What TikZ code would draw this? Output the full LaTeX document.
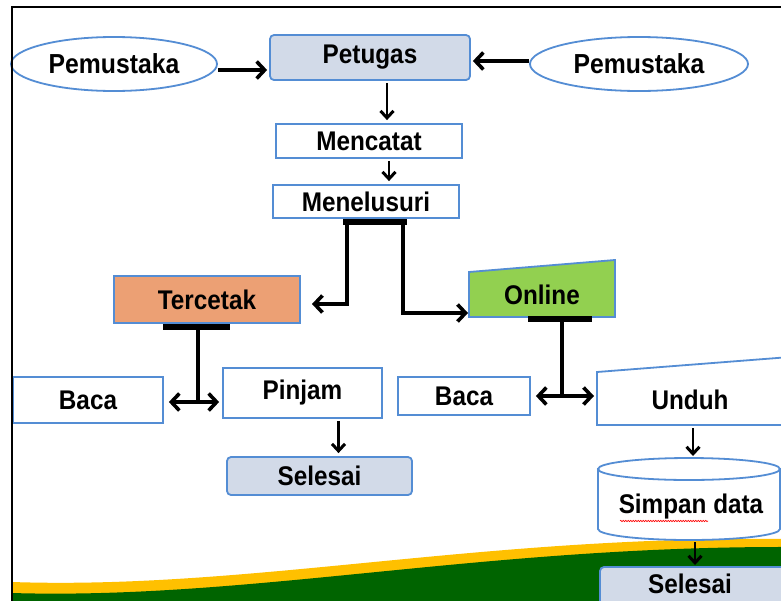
\documentclass[tikz,border=0pt]{standalone}
\usepackage{fontspec}
\setmainfont{Liberation Sans}[FakeStretch=0.9]
\usetikzlibrary{arrows.meta,shapes.geometric,decorations.pathmorphing}
\definecolor{bord}{RGB}{84,141,212}
\definecolor{grayfill}{RGB}{210,218,232}
\definecolor{tercfill}{RGB}{236,160,116}
\definecolor{onlfill}{RGB}{146,208,80}
\definecolor{wyellow}{RGB}{255,192,0}
\definecolor{wgreen}{RGB}{0,100,0}
\begin{document}
\begin{tikzpicture}[x=1pt,y=-1pt,
  txt/.style={font=\fontsize{27}{30}\selectfont\bfseries, text=black, inner sep=0pt},
  bx/.style={txt, draw=bord, line width=1.8pt, fill=white},
  ell/.style={txt, ellipse, draw=bord, line width=1.8pt, fill=white},
  arr/.style={line width=3.6pt, -{Straight Barb[length=8pt,width=17pt,line width=3.6pt]}},
  darr/.style={line width=2.6pt, -{Straight Barb[length=7pt,width=13pt,line width=3pt]}, shorten <=2pt, shorten >=3pt},
  lr/.style={line width=3.6pt, {Straight Barb[length=8pt,width=17pt,line width=3.6pt]}-{Straight Barb[length=8pt,width=17pt,line width=3.6pt]}, shorten <=5pt, shorten >=3pt},
  barline/.style={line width=5.5pt},
  shp/.style={draw=bord, line width=1.8pt}]
\useasboundingbox (0,0) rectangle (781,600);
\clip (0,0) rectangle (781,600);
\fill[white] (0,0) rectangle (781,600);

% bottom wave
\fill[wyellow] (12,582) .. controls (250,590) and (480,535) .. (790,539) -- (790,610) -- (12,610) -- cycle;
\fill[wgreen] (12,593) .. controls (250,600) and (480,546) .. (790,547) -- (790,610) -- (12,610) -- cycle;

% nodes
\node[ell, minimum width=206pt, minimum height=54pt, font=\fontsize{27.5}{30}\selectfont\bfseries] (pemL) at (114,64) {Pemustaka};
\node[ell, minimum width=218pt, minimum height=54pt, font=\fontsize{27.5}{30}\selectfont\bfseries] (pemR) at (639,64) {Pemustaka};
\node[bx, fill=grayfill, rounded corners=4pt, minimum width=200pt, minimum height=45pt] (pet) at (370,57.5) {Petugas};
\node[bx, minimum width=186pt, minimum height=34pt] (menc) at (369,141) {Mencatat};
\node[bx, minimum width=186pt, minimum height=33pt] (menel) at (366,201.5) {Menelusuri};
\node[bx, fill=tercfill, minimum width=186pt, minimum height=47pt] (terc) at (207,299.5) {Tercetak};
\filldraw[shp, fill=onlfill] (469,272) -- (615,260) -- (615,317) -- (469,317) -- cycle;
\node[txt] (onl) at (542,295) {Online};
\node[bx, minimum width=150pt, minimum height=46pt] (bacaL) at (88,400) {Baca};
\node[bx, minimum width=159pt, minimum height=50pt] (pinj) at (302.5,393) {Pinjam};
\node[bx, fill=grayfill, rounded corners=4pt, minimum width=185pt, minimum height=38pt] (selL) at (319.5,476) {Selesai};
\node[bx, minimum width=132pt, minimum height=38pt] (bacaR) at (464,396) {Baca};
\filldraw[shp, fill=white] (597,372) -- (790,357) -- (790,425) -- (597,425) -- cycle;
\node[txt] (und) at (690,400) {Unduh};
% cylinder
\filldraw[shp, fill=white] (598,469) -- (598,529) arc[start angle=180, end angle=360, x radius=91pt, y radius=11pt] -- (780,469) -- cycle;
\filldraw[shp, fill=white] (689,469) ellipse[x radius=91pt, y radius=11pt];
\node[txt, anchor=base] (simp) at (691,513) {Simpan data};
\draw[red, line width=0.6pt, decorate, decoration={snake, amplitude=0.7pt, segment length=2.5pt}] (620,521) -- (708,521);
\filldraw[shp, fill=grayfill, rounded corners=4pt] (600,610) -- (600,567) -- (790,567) -- (790,610);
\node[txt] (selR) at (690,584) {Selesai};

% coordinates
\coordinate (mbL) at (343,222); \coordinate (mbR) at (407,222);
\coordinate (mjL) at (347,222); \coordinate (mjR) at (403,222);
\coordinate (tArr) at (312,304); \coordinate (oArr) at (468,313);
\coordinate (tbL) at (163,327); \coordinate (tbR) at (230,327);
\coordinate (tv) at (198,327); \coordinate (tj) at (198,402);
\coordinate (obL) at (528,319); \coordinate (obR) at (592,319);
\coordinate (ov) at (562,319); \coordinate (oj) at (562,396);
\coordinate (undW) at (597,396);
\coordinate (uS) at (693,426); \coordinate (sT) at (693,459);
\coordinate (sB) at (695,540); \coordinate (rT) at (695,568);

% connectors
\draw[arr, shorten >=2pt] ([yshift=-6pt]pemL.east) -- ([yshift=-6pt]pemL.east -| pet.west);
\draw[arr, shorten >=2pt] ([yshift=3pt]pemR.west) -- ([yshift=3pt]pemR.west -| pet.east);
\draw[darr] ([xshift=17pt]pet.south) -- ([xshift=17pt]pet.south |- menc.north);
\draw[darr] ([xshift=20pt]menc.south) -- ([xshift=20pt]menc.south |- menel.north);
\draw[barline] (mbL) -- (mbR);
\draw[arr] (mjL) |- (tArr);
\draw[arr] (mjR) |- (oArr);
\draw[barline] (tbL) -- (tbR);
\draw[line width=3.6pt] (tv) -- (tj);
\draw[lr] (bacaL.east |- tj) -- (pinj.west |- tj);
\draw[barline] (obL) -- (obR);
\draw[line width=3.6pt] (ov) -- (oj);
\draw[lr] (bacaR.east |- oj) -- (undW);
\draw[darr] ([xshift=36pt]pinj.south) -- ([xshift=36pt]pinj.south |- selL.north);
\draw[darr] (uS) -- (sT);
\draw[darr] (sB) -- (rT);

% frame
\draw[line width=1.5pt] (790,7) -- (12,7) -- (12,610);
\end{tikzpicture}
\end{document}
